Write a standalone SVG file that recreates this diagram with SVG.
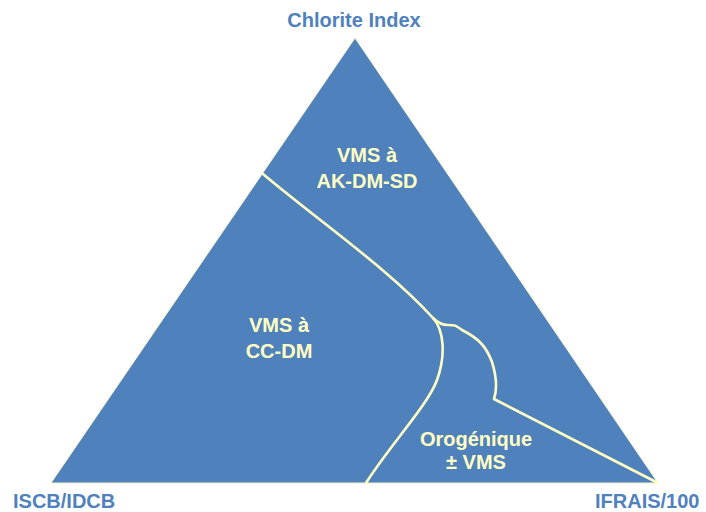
<svg xmlns="http://www.w3.org/2000/svg" width="706" height="512" viewBox="0 0 706 512">
  <style>
    .axis { font-family: "Liberation Sans", Arial, sans-serif; font-weight: bold; font-size: 20px; fill: #4F81BD; }
    .field { font-family: "Liberation Sans", Arial, sans-serif; font-weight: bold; font-size: 20px; fill: #FFFFC4; text-anchor: middle; }
    .boundary { fill: none; stroke: #FFFFC4; stroke-width: 2.6; stroke-linejoin: round; stroke-linecap: round; }
  </style>
  <rect width="706" height="512" fill="#FFFFFF"/>

  <!-- ternary field -->
  <g id="triangle">
    <polygon points="355,38 51,483 658,483" fill="#4F81BD" stroke="#F4F4C8" stroke-width="1"/>
  </g>

  <!-- field boundaries -->
  <g id="connectors">
    <path class="boundary" d="M263,174 C320,222 390,270 433,318 C444,330 446,355 437,380 C428,405 390,445 366,483"/>
    <path class="boundary" d="M433,318 C438,323 442,325 448,325 C455,325 455,325 462,330 C478,338 486,346 492,362 C497,378 497,390 494,399 L658,483"/>
  </g>

  <!-- vertex labels -->
  <g id="apex-label"><text class="axis" x="354" y="27" text-anchor="middle">Chlorite Index</text></g>
  <g id="left-label"><text class="axis" x="13" y="508">ISCB/IDCB</text></g>
  <g id="right-label"><text class="axis" x="595" y="508">IFRAIS/100</text></g>

  <!-- field labels -->
  <g id="field-ak">
    <text class="field" x="367" y="162">VMS à</text>
    <text class="field" x="367" y="188">AK-DM-SD</text>
  </g>
  <g id="field-cc">
    <text class="field" x="279" y="332">VMS à</text>
    <text class="field" x="279" y="358">CC-DM</text>
  </g>
  <g id="field-orogenic">
    <text class="field" x="476" y="446">Orogénique</text>
    <text class="field" x="476" y="469">± VMS</text>
  </g>
</svg>
